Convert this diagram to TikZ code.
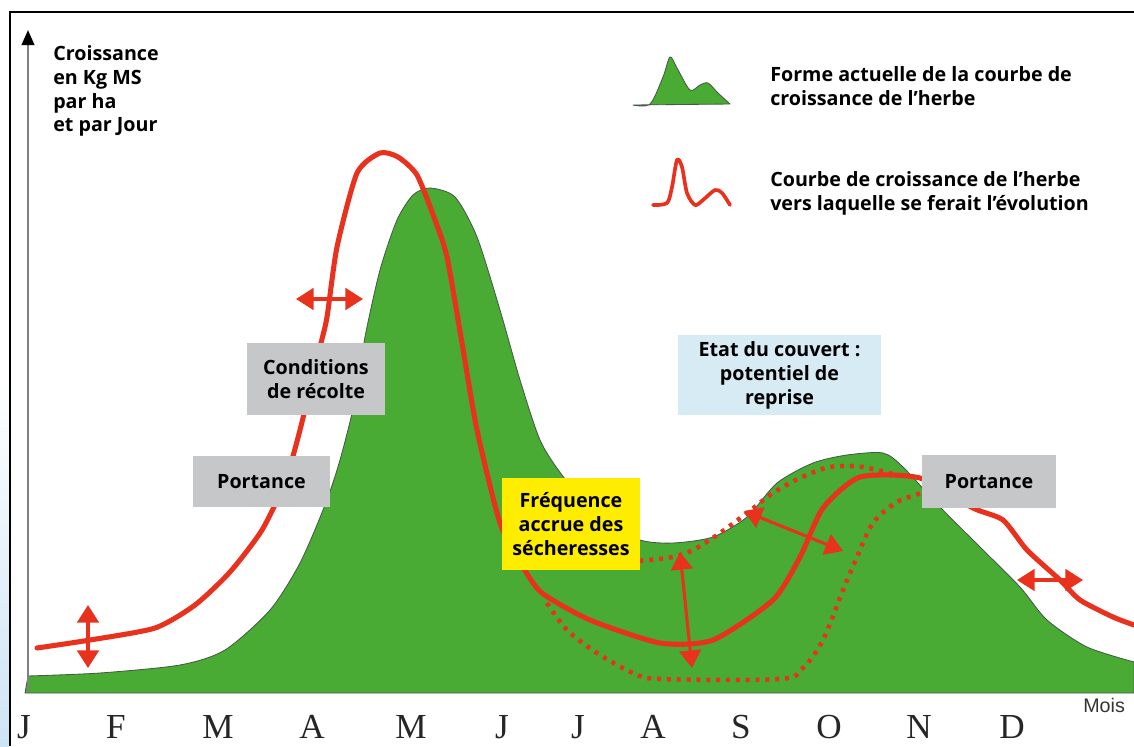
\documentclass[tikz,border=0pt]{standalone}
\usepackage{fontspec}
\setmainfont{Open Sans}
\newfontfamily\monthfont{Liberation Serif}
\newfontfamily\moisfont{Liberation Sans}
\usepackage{xcolor}
\usepackage{tikz}
\usetikzlibrary{arrows.meta}
\definecolor{grass}{RGB}{73,170,52}
\definecolor{grassedge}{RGB}{70,90,70}
\definecolor{herbred}{RGB}{232,50,30}
\definecolor{boxgrey}{RGB}{198,199,200}
\definecolor{boxyellow}{RGB}{255,237,0}
\definecolor{boxblue}{RGB}{214,235,243}
\definecolor{sideblue}{RGB}{205,228,245}

\begin{document}
\begin{tikzpicture}[x=0.025cm, y=-0.025cm, font=\bfseries\fontsize{14}{17}\selectfont,
    area/.style={fill=grass, draw=grassedge, line width=0.6pt, line join=round},
    redline/.style={draw=herbred, line width=3.6pt, line join=round, line cap=round},
    dotline/.style={draw=herbred, line width=3.2pt, dash pattern=on 2.8pt off 4.2pt},
    twoway/.style={draw=herbred, line width=2.2pt,
        {Triangle[length=0.44cm, width=0.54cm]}-{Triangle[length=0.44cm, width=0.54cm]}},
    label/.style={align=center, inner sep=0pt},
    greybox/.style={label, fill=boxgrey},
    month/.style={font=\monthfont\fontsize{25}{25}\selectfont, text=black!85, anchor=base}]

    \useasboundingbox (0,0) rectangle (1134,746);
    \shade[top color=white, bottom color=sideblue] (0,380) rectangle (9,746);
    \draw[line width=1.8pt] (10,746) -- (10,12) -- (1134,12);

    \draw[area] plot[smooth, tension=0.45] coordinates {(28,676) (100,673) (180,665) (225,650)
        (270,610) (300,563) (325,505) (340,460) (355,400) (365,337) (380,270) (397,220)
        (413,195) (430,188) (455,197) (477,237) (500,310) (520,380) (540,440) (562,475)
        (600,520) (640,540) (673,543) (713,537) (747,517) (777,483) (813,463) (847,455)
        (883,453) (903,467) (940,507) (980,547) (1020,587) (1047,620) (1087,647) (1134,662)}
        -- (1134,693) -- (25,693) -- cycle;

    \coordinate (origin) at (28,692);
    \coordinate (ytop) at (28,30);
    \draw[gray, line width=1.5pt, -{Triangle[length=0.38cm, width=0.32cm, color=black]}] (origin) -- (ytop);

    \draw[redline] plot[smooth, tension=0.4] coordinates {(37,648) (90,640) (155,628) (195,605)
        (230,572) (262,530) (285,482) (300,430) (320,347) (327,317) (337,247) (357,173)
        (380,153) (398,157) (417,175) (435,220) (447,257) (462,343) (477,430) (500,523)
        (523,567) (542,593) (590,620) (660,643) (713,640) (773,600) (800,557) (823,508)
        (860,477) (920,478) (973,508) (1003,520) (1027,550) (1060,580) (1080,600)
        (1113,617) (1134,625)};

    \draw[dotline] plot[smooth, tension=0.5] coordinates {(547,603) (567,630) (597,653)
        (633,673) (660,679) (780,679) (803,668) (823,640) (843,590) (857,557) (873,523)
        (897,502) (925,492)};
    \draw[dotline] plot[smooth, tension=0.5] coordinates {(610,563) (667,558) (693,550)
        (720,533) (747,513) (773,493) (800,478) (830,467) (863,467) (900,476)};

    \coordinate (jan1) at (88,605);
    \coordinate (jan2) at (88,668);
    \coordinate (apr1) at (296,299);
    \coordinate (apr2) at (363,299);
    \coordinate (aug1) at (680,552);
    \coordinate (aug2) at (692,668);
    \coordinate (sep1) at (744,511);
    \coordinate (sep2) at (843,551);
    \coordinate (dec1) at (1017,580);
    \coordinate (dec2) at (1083,580);
    \draw[twoway] (jan1) -- (jan2);
    \draw[twoway] (apr1) -- (apr2);
    \draw[twoway] (aug1) -- (aug2);
    \draw[twoway] (sep1) -- (sep2);
    \draw[twoway] (dec1) -- (dec2);

    \node[greybox, minimum width=3.45cm, minimum height=1.8cm] (cond) at (316,379) {Conditions\\de récolte};
    \node[greybox, minimum width=3.43cm, minimum height=1.28cm] (portL) at (261.5,481.5) {Portance};
    \node[greybox, minimum width=3.35cm, minimum height=1.33cm] (portR) at (989,481.5) {Portance};
    \node[label, fill=boxyellow, minimum width=3.45cm, minimum height=2.3cm] (freq) at (571,524) {Fréquence\\accrue des\\sécheresses};
    \node[label, fill=boxblue, minimum width=5.08cm, minimum height=2.0cm] (etat) at (779.5,375) {Etat du couvert :\\potentiel de\\reprise};

    \node[anchor=north west, align=left, inner sep=0pt] (ylabel) at (53,45) {Croissance\\en Kg MS\\par ha\\et par Jour};

    \draw[area] plot[smooth, tension=0.5] coordinates {(633,105) (650,104) (663,77) (670,57)
        (677,68) (690,90) (700,85) (708,83) (718,93) (730,104)} -- cycle;
    \draw[redline, line width=2.6pt] plot[smooth, tension=0.5] coordinates {(653,205) (667,203)
        (672,187) (677,160) (682,167) (687,193) (695,205) (703,200) (715,190) (722,193) (730,205)};
    \node[anchor=north west, align=left, inner sep=0pt] (leg1) at (770,66) {Forme actuelle de la courbe de\\croissance de l’herbe};
    \node[anchor=north west, align=left, inner sep=0pt] (leg2) at (770,171) {Courbe de croissance de l’herbe\\vers laquelle se ferait l’évolution};

    \node[anchor=base west, inner sep=0pt, text=black!80, font=\moisfont\fontsize{14}{14}\selectfont] (mois) at (1083,712) {Mois};
    \node[month] (m1) at (24,738) {J};
    \node[month] (m2) at (116,738) {F};
    \node[month] (m3) at (218,738) {M};
    \node[month] (m4) at (312,738) {A};
    \node[month] (m5) at (411,738) {M};
    \node[month] (m6) at (502,738) {J};
    \node[month] (m7) at (578,738) {J};
    \node[month] (m8) at (653,738) {A};
    \node[month] (m9) at (741,738) {S};
    \node[month] (m10) at (829,738) {O};
    \node[month] (m11) at (919,738) {N};
    \node[month] (m12) at (1012,738) {D};
  \end{tikzpicture}
\end{document}
